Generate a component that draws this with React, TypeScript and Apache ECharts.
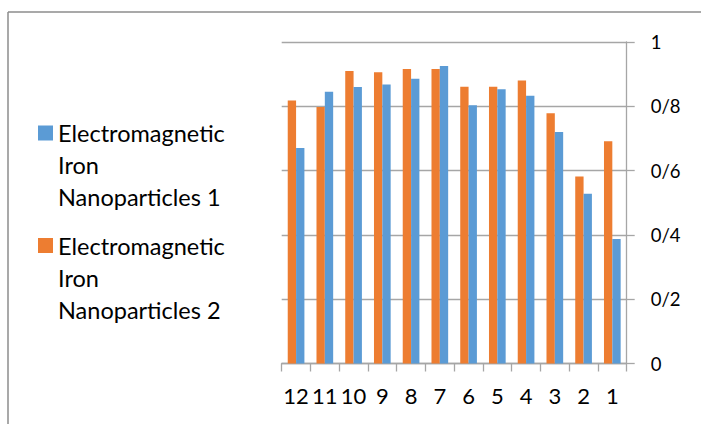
import React, { useEffect, useRef } from 'react';
import * as echarts from 'echarts';

const categories = ['12', '11', '10', '9', '8', '7', '6', '5', '4', '3', '2', '1'];
const series1Values = [0.670, 0.845, 0.860, 0.868, 0.886, 0.925, 0.803, 0.853, 0.833, 0.720, 0.528, 0.387];
const series2Values = [0.818, 0.798, 0.910, 0.906, 0.916, 0.916, 0.861, 0.861, 0.880, 0.778, 0.582, 0.691];
const yTickLabels = ['0', '0/2', '0/4', '0/6', '0/8', '1'];
const series1Name = 'Electromagnetic Iron Nanoparticles 1';
const series2Name = 'Electromagnetic Iron Nanoparticles 2';

const FONT = 'Lato, "Open Sans", sans-serif';
const LINE_H = 32;

function legendFor(name: string, iconCenter: number) {
  return {
    data: [name],
    orient: 'vertical',
    left: 38,
    top: iconCenter - LINE_H * 2.5,
    padding: 0,
    itemWidth: 15,
    itemHeight: 15,
    icon: 'rect',
    selectedMode: false,
    // two blank lines above keep the first text line level with the square
    formatter: (n: string) => '\n\n' + n.replace('Electromagnetic Iron ', 'Electromagnetic\nIron\n'),
    textStyle: {
      fontFamily: FONT,
      fontSize: 23.5,
      color: '#000',
      lineHeight: LINE_H,
    },
  };
}

export default function App() {
  const ref = useRef<HTMLDivElement>(null);
  useEffect(() => {
    if (!ref.current) return;
    const chart = echarts.init(ref.current, null, { renderer: 'svg' });
    chart.setOption({
      animation: false,
      backgroundColor: '#fff',
      textStyle: { fontFamily: FONT },
      grid: { left: 281.7, right: 74.3, top: 42, bottom: 60.5, containLabel: false },
      legend: [legendFor(series1Name, 133), legendFor(series2Name, 245.5)],
      xAxis: {
        type: 'category',
        data: categories,
        boundaryGap: true,
        axisLine: { show: true, lineStyle: { color: '#a6a6a6', width: 1.3 } },
        axisTick: { show: true, length: 8, lineStyle: { color: '#a6a6a6', width: 1.3 } },
        axisLabel: { fontFamily: FONT, fontSize: 22, color: '#000', margin: 21, interval: 0 },
        splitLine: { show: false },
      },
      yAxis: {
        type: 'value',
        position: 'right',
        min: 0,
        max: 1,
        interval: 0.2,
        axisLine: { show: true, lineStyle: { color: '#a6a6a6', width: 1.3 } },
        axisTick: { show: true, length: 8, lineStyle: { color: '#a6a6a6', width: 1.3 } },
        axisLabel: {
          fontFamily: FONT,
          fontSize: 18.5,
          color: '#000',
          margin: 24,
          formatter: (v: number) => yTickLabels[Math.round(v / 0.2)],
        },
        splitLine: { show: true, lineStyle: { color: '#a6a6a6', width: 1.3 } },
      },
      series: [
        {
          name: series2Name,
          type: 'bar',
          data: series2Values,
          itemStyle: { color: '#ED7D31' },
          barGap: '0%',
          barCategoryGap: '42%',
        },
        {
          name: series1Name,
          type: 'bar',
          data: series1Values,
          itemStyle: { color: '#5B9BD5' },
          barGap: '0%',
          barCategoryGap: '42%',
        },
      ],
      graphic: [
        { type: 'line', shape: { x1: 8, y1: 12, x2: 8, y2: 424 }, style: { stroke: '#8c8c8c', lineWidth: 1.5 } },
        { type: 'line', shape: { x1: 8, y1: 12, x2: 701, y2: 12 }, style: { stroke: '#8c8c8c', lineWidth: 1.5 } },
      ],
    });
    return () => chart.dispose();
  }, []);
  return <div ref={ref} style={{ position: 'absolute', left: 0, top: 0, width: 701, height: 424 }} />;
}
